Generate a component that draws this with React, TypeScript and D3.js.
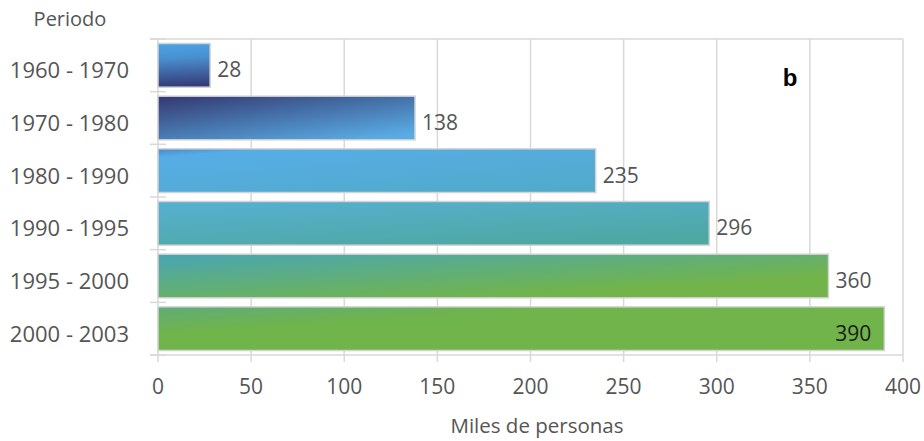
import React from "react";
import * as d3 from "d3";

const categories = ["1960 - 1970", "1970 - 1980", "1980 - 1990", "1990 - 1995", "1995 - 2000", "2000 - 2003"];
const values = [28, 138, 235, 296, 360, 390];
const xTicks = [0, 50, 100, 150, 200, 250, 300, 350, 400];
const gradients = [
  { stops: [["0%", "#4aa4e3"], ["35%", "#4a8fcf"], ["100%", "#353b78"]], x2: 0.05 },
  { stops: [["0%", "#343870"], ["100%", "#59abe3"]], x2: 0.8 },
  { stops: [["0%", "#4a86c6"], ["12%", "#56ade6"], ["100%", "#52aacb"]], x2: 0.8 },
  { stops: [["0%", "#57b0d2"], ["100%", "#4ea8a4"]], x2: 0.6 },
  { stops: [["0%", "#47a6b4"], ["35%", "#5dad82"], ["75%", "#72b44a"], ["100%", "#72b44a"]], x2: 1 },
  { stops: [["0%", "#5fac78"], ["30%", "#70b44c"], ["100%", "#71b44a"]], x2: 1 },
];

const W = 924, H = 441;
const left = 158, right = 903, top = 39, bottom = 355;
const FONT = "'Open Sans', 'Noto Sans', sans-serif";

export default function App() {
  const x = d3.scaleLinear().domain([0, 400]).range([left, right]);
  const y = d3.scaleBand<string>().domain(categories).range([top, bottom]).paddingInner(0.17).paddingOuter(0.085);
  const step = y.step();
  return (
    <svg width={W} height={H} style={{ position: "absolute", left: 0, top: 0 }}>
      <defs>
        {gradients.map((g, i) => (
          <linearGradient key={i} id={`g${i}`} x1="0" y1="0" x2={g.x2} y2="1">
            {g.stops.map(([o, c], j) => <stop key={j} offset={o} stopColor={c} />)}
          </linearGradient>
        ))}
      </defs>
      <rect x={0} y={0} width={W} height={H} fill="#fff" />
      {xTicks.map((t) => (
        <line key={t} x1={x(t)} x2={x(t)} y1={top} y2={bottom + 7} stroke="#d9d9d9" strokeWidth={1.5} />
      ))}
      <line x1={left - 8} x2={right} y1={top} y2={top} stroke="#d9d9d9" strokeWidth={1.5} />
      <line x1={left - 8} x2={right} y1={bottom} y2={bottom} stroke="#d9d9d9" strokeWidth={1.5} />
      {d3.range(categories.length + 1).map((i) => (
        <line key={i} x1={left - 8} x2={left + 8} y1={top + i * step} y2={top + i * step} stroke="#d9d9d9" strokeWidth={1.5} />
      ))}
      {categories.map((c, i) => (
        <rect key={c} x={x(0)} y={y(c)!} width={x(values[i]) - x(0)} height={y.bandwidth()} fill={`url(#g${i})`} stroke="#d4d4d4" strokeWidth={1.5} />
      ))}
      {categories.map((c, i) => {
        const inside = values[i] > 380;
        return (
          <text key={c} x={inside ? x(values[i]) - 13 : x(values[i]) + 7} y={y(c)! + y.bandwidth() / 2 + 4}
            dominantBaseline="central" textAnchor={inside ? "end" : "start"} fontFamily={FONT} fontSize={21}
            fill={inside ? "#1a1a1a" : "#555"}>{values[i]}</text>
        );
      })}
      {categories.map((c) => (
        <text key={c} x={129} y={y(c)! + y.bandwidth() / 2 + 4} dominantBaseline="central" textAnchor="end"
          fontFamily={FONT} fontSize={22} fill="#555">{c}</text>
      ))}
      <text x={70} y={18} textAnchor="middle" dominantBaseline="central" fontFamily={FONT} fontSize={20} fill="#555">Periodo</text>
      {xTicks.map((t) => (
        <text key={t} x={x(t)} y={386} textAnchor="middle" dominantBaseline="central" fontFamily={FONT} fontSize={21} fill="#555">{t}</text>
      ))}
      <text x={537} y={425} textAnchor="middle" dominantBaseline="central" fontFamily={FONT} fontSize={20.5} fill="#555">Miles de personas</text>
      <text x={790} y={77} textAnchor="middle" dominantBaseline="central" fontFamily="'Liberation Sans', Arial, sans-serif" fontWeight="bold" fontSize={24} fill="#000">b</text>
    </svg>
  );
}
